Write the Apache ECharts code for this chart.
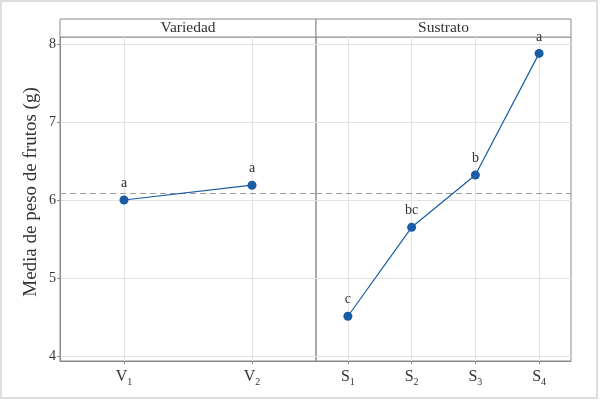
<!DOCTYPE html>
<html>
<head>
<meta charset="utf-8">
<script src="https://cdn.jsdelivr.net/npm/echarts@6/dist/echarts.min.js"></script>
<style>
html,body{margin:0;padding:0;background:#fff;}
#c{width:600px;height:401px;}
</style>
</head>
<body>
<div id="c"></div>
<script>
var variedadCats = ['V1', 'V2'];
var variedadVals = [6.00, 6.19];
var variedadLetters = ['a', 'a'];
var sustratoCats = ['S1', 'S2', 'S3', 'S4'];
var sustratoVals = [4.51, 5.65, 6.32, 7.88];
var sustratoLetters = ['c', 'bc', 'b', 'a'];
var grandMean = 6.09;
var yTicks = [4, 5, 6, 7, 8];
var panelTitles = ['Variedad', 'Sustrato'];
var yTitle = 'Media de peso de frutos (g)';

var serif = '"Liberation Serif", "DejaVu Serif", serif';
var txt = '#333';
var frame = '#8a8a8a';
var blue = '#1a5ba6';

var xRich = {
  m: {fontFamily: serif, fontSize: 16, color: txt},
  s: {fontFamily: serif, fontSize: 10, color: txt, padding: [10, 0, 0, 0]}
};

function xAxisCfg(cats, gi) {
  var pos = cats.map(function (c, i) { return i + 1; });
  return {
    type: 'value', gridIndex: gi, min: 0.5, max: cats.length + 0.5, splitNumber: cats.length,
    axisLine: {show: true, onZero: false, lineStyle: {color: frame, width: 1}},
    axisTick: {show: true, length: 3, customValues: pos, lineStyle: {color: frame}},
    axisLabel: {
      customValues: pos, margin: 6, rich: xRich,
      formatter: function (v) {
        var c = cats[Math.round(v) - 1] || '';
        return '{m|' + c.charAt(0) + '}{s|' + c.slice(1) + '}';
      }
    },
    splitLine: {show: true, lineStyle: {color: '#e3e3e3', width: 1}}
  };
}
function yAxisCfg(gi, showLabels) {
  return {
    type: 'value', gridIndex: gi, min: 3.936, max: 8.09,
    name: showLabels ? yTitle : '', nameLocation: 'middle', nameGap: 19,
    nameTextStyle: {fontFamily: serif, fontSize: 19, color: txt, padding: [0, 0, 0, 14]},
    axisLine: {show: showLabels, lineStyle: {color: frame}},
    axisTick: {show: showLabels, length: 3, customValues: yTicks, lineStyle: {color: frame}},
    axisLabel: {show: showLabels, customValues: yTicks, fontFamily: serif, fontSize: 14, color: txt, margin: 4},
    splitLine: {show: true, lineStyle: {color: '#e3e3e3', width: 1}}
  };
}
function seriesCfg(cats, vals, letters, gi) {
  return {
    type: 'line', xAxisIndex: gi, yAxisIndex: gi,
    data: vals.map(function (v, i) { return {value: [i + 1, v], label: {formatter: letters[i]}}; }),
    symbol: 'circle', symbolSize: 9,
    itemStyle: {color: blue},
    lineStyle: {color: blue, width: 1.2},
    label: {show: true, position: 'top', distance: 5, fontFamily: serif, fontSize: 14, color: txt},
    markLine: {
      silent: true, symbol: 'none', label: {show: false},
      lineStyle: {color: '#9a9a9a', type: [6, 4], width: 1},
      data: [{yAxis: grandMean}]
    },
    z: 5
  };
}

var chart = echarts.init(document.getElementById('c'));
chart.setOption({
  animation: false,
  backgroundColor: '#fff',
  grid: [
    {left: 60, right: 284, top: 37, bottom: 40, show: true, borderColor: frame, borderWidth: 1, backgroundColor: 'transparent'},
    {left: 316, right: 29, top: 37, bottom: 40, show: true, borderColor: frame, borderWidth: 1, backgroundColor: 'transparent'}
  ],
  xAxis: [xAxisCfg(variedadCats, 0), xAxisCfg(sustratoCats, 1)],
  yAxis: [yAxisCfg(0, true), yAxisCfg(1, false)],
  series: [seriesCfg(variedadCats, variedadVals, variedadLetters, 0), seriesCfg(sustratoCats, sustratoVals, sustratoLetters, 1)],
  graphic: [
    {type: 'rect', shape: {x: 1, y: 1, width: 596, height: 397}, style: {fill: 'none', stroke: '#dedede', lineWidth: 2}, silent: true},
    {type: 'rect', shape: {x: 60, y: 19, width: 256, height: 18}, style: {fill: '#fff', stroke: frame, lineWidth: 1}},
    {type: 'rect', shape: {x: 316, y: 19, width: 255, height: 18}, style: {fill: '#fff', stroke: frame, lineWidth: 1}},
    {type: 'text', x: 188, y: 28, style: {text: panelTitles[0], fontFamily: serif, fontSize: 15.5, fill: txt, align: 'center', verticalAlign: 'middle'}},
    {type: 'text', x: 443.5, y: 28, style: {text: panelTitles[1], fontFamily: serif, fontSize: 15.5, fill: txt, align: 'center', verticalAlign: 'middle'}}
  ]
});
</script>
</body>
</html>
